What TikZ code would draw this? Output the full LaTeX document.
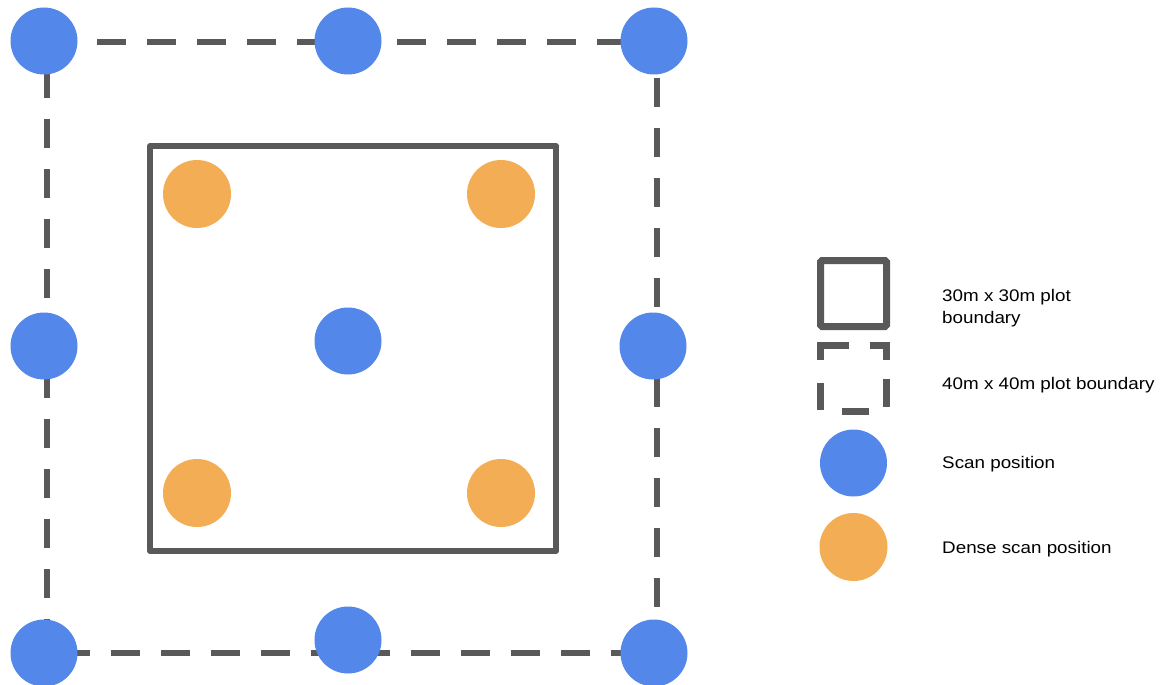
\documentclass[tikz,border=0pt]{standalone}
\usepackage{fontspec}
\usepackage{xcolor}
\usepackage{tikz}
\usetikzlibrary{positioning}
\newfontfamily\legendfont[FakeStretch=1.12]{Liberation Sans}
\definecolor{scanblue}{RGB}{83,135,234}
\definecolor{denseorange}{RGB}{243,174,85}
\definecolor{linegray}{RGB}{89,89,89}

\begin{document}
\begin{tikzpicture}[x=1pt,y=-1pt,
  scanpos/.style={circle,fill=scanblue,minimum size=67pt,inner sep=0pt},
  densepos/.style={circle,fill=denseorange,minimum size=68pt,inner sep=0pt},
  plotline/.style={draw=linegray,line width=6pt},
  legendtext/.style={anchor=base west,inner sep=0pt,align=left,
    font=\legendfont\fontsize{16.8}{22}\selectfont}]
  \fill[white] (0,0) rectangle (1162,685);
  \clip (0,0) rectangle (1162,685);

  % 40m x 40m boundary, drawn side by side so the dashes line up
  \coordinate (o-nw) at (47,42);
  \coordinate (o-ne) at (657,42);
  \coordinate (o-sw) at (47,653);
  \coordinate (o-se) at (657,653);
  \foreach \s/\e/\ph in {o-nw/o-ne/0, o-nw/o-sw/23, o-sw/o-se/36, o-ne/o-se/14}{
    \draw[plotline,dash pattern=on 29pt off 21pt,dash phase=\ph pt] (\s) -- (\e);
  }

  % 30m x 30m boundary
  \draw[plotline,line join=round] (150,146) rectangle (556,551);

  % scan positions
  \foreach \n/\x/\y in {nw/44/41, n/348/41, ne/654/41, w/44/346, c/348/341,
                        e/653/346, sw/44/653, s/348/640, se/654/653}{
    \node[scanpos] (scan-\n) at (\x,\y) {};
  }
  % dense scan positions
  \foreach \n/\x/\y in {nw/197/194, ne/501/194, sw/197/493, se/501/493}{
    \node[densepos] (dense-\n) at (\x,\y) {};
  }

  % legend
  \draw[plotline,line width=7pt,rounded corners=1.5pt] (820.5,260.5) rectangle (886.5,326.5);
  \draw[plotline,line width=7pt] (820.5,360) -- (820.5,345.5) -- (849,345.5);
  \draw[plotline,line width=7pt] (870,345.5) -- (886.5,345.5) -- (886.5,360);
  \draw[plotline,line width=7pt] (886.5,379) -- (886.5,407);
  \draw[plotline,line width=7pt] (842,411.5) -- (869,411.5);
  \draw[plotline,line width=7pt] (820.5,383) -- (820.5,410);
  \node[scanpos] (key-scan) at (853.5,463) {};
  \node[densepos] (key-dense) at (853.5,547) {};

  \node[legendtext] (lbl-inner) at (942,323) {30m x 30m plot\\boundary};
  \node[legendtext] (lbl-outer) at (942,389) {40m x 40m plot boundary};
  \node[legendtext] (lbl-scan) at (942,468) {Scan position};
  \node[legendtext] (lbl-dense) at (942,553) {Dense scan position};
\end{tikzpicture}
\end{document}
